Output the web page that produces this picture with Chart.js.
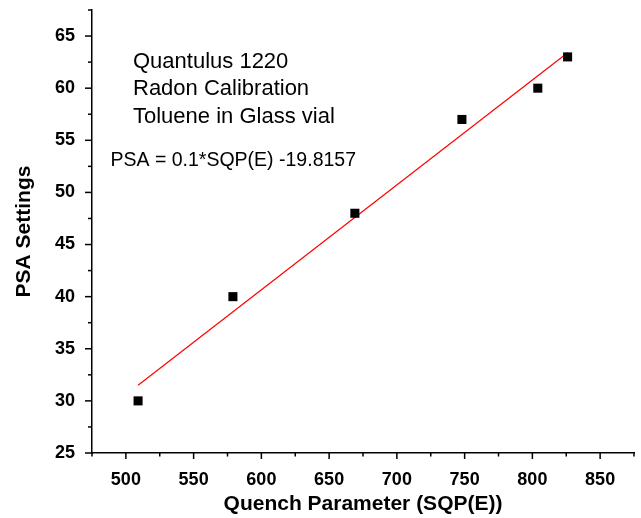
<!DOCTYPE html>
<html>
<head>
<meta charset="utf-8">
<script src="https://cdn.jsdelivr.net/npm/chart.js@4.4.1/dist/chart.umd.min.js"></script>
<style>
  html, body { margin: 0; padding: 0; background: #fff; }
  #wrap { width: 641px; height: 518px; }
</style>
</head>
<body>
<div id="wrap"><canvas id="psaChart" width="641" height="518"></canvas></div>
<script>
// valores
const sqpValues = [509, 579, 669, 748, 804, 826];
const psaValues = [30, 40, 48, 57, 60, 63];
const fitX = [509, 826];
const fitY = [31.5, 63.4];
const noteLines = ['Quantulus 1220', 'Radon Calibration', 'Toluene in Glass vial'];
const equationText = 'PSA = 0.1*SQP(E) -19.8157';

const FONT = "'Liberation Sans', Arial, sans-serif";

// marcas de escala (maiores e menores) desenhadas a mao
const tickMarks = {
    id: 'tickMarks',
    afterDraw(chart) {
        const ctx = chart.ctx;
        const x = chart.scales.x, y = chart.scales.y;
        ctx.save();
        ctx.strokeStyle = '#000';
        ctx.lineWidth = 1.5;
        x.ticks.forEach(t => {
            const px = x.getPixelForValue(t.value);
            const len = t.value % 50 === 0 ? 6 : 3.5;
            ctx.beginPath();
            ctx.moveTo(px, x.top);
            ctx.lineTo(px, x.top + len);
            ctx.stroke();
        });
        y.ticks.forEach(t => {
            const py = y.getPixelForValue(t.value);
            const len = t.value % 5 === 0 ? 7 : 4;
            ctx.beginPath();
            ctx.moveTo(y.right, py);
            ctx.lineTo(y.right - len, py);
            ctx.stroke();
        });
        ctx.restore();
    }
};

const notes = {
    id: 'notes',
    afterDraw(chart) {
        const ctx = chart.ctx;
        ctx.save();
        ctx.fillStyle = '#000';
        ctx.textBaseline = 'alphabetic';
        ctx.font = '22px ' + FONT;
        noteLines.forEach((s, i) => ctx.fillText(s, 133, 67.7 + i * 27.5));
        ctx.font = '19.5px ' + FONT;
        ctx.fillText(equationText, 110.5, 166);
        ctx.restore();
    }
};

new Chart(document.getElementById('psaChart'), {
    type: 'scatter',
    data: {
        datasets: [{
            label: 'Ajuste',
            type: 'line',
            data: fitX.map((v, i) => ({ x: v, y: fitY[i] })),
            borderColor: '#ff0000',
            borderWidth: 1.2,
            pointRadius: 0,
            fill: false,
            order: 2
        }, {
            label: 'PSA',
            data: sqpValues.map((v, i) => ({ x: v, y: psaValues[i] })),
            pointStyle: 'rect',
            pointRadius: 6.4,
            backgroundColor: '#000',
            borderColor: '#000',
            borderWidth: 0,
            order: 1
        }]
    },
    options: {
        responsive: false,
        animation: false,
        layout: { padding: { top: 10, right: 7, left: 0, bottom: 0 } },
        plugins: { legend: { display: false }, tooltip: { enabled: false } },
        scales: {
            x: {
                type: 'linear',
                min: 475, max: 875,
                afterFit: s => { s.height = 65; s.paddingLeft = 0; s.paddingRight = 0; },
                grid: { display: false, drawTicks: false },
                border: { display: true, color: '#000', width: 1.5 },
                ticks: {
                    stepSize: 25,
                    autoSkip: false,
                    maxRotation: 0,
                    padding: 16,
                    color: '#000',
                    font: { family: FONT, size: 18, weight: 'bold' },
                    callback: v => (v % 50 === 0 ? v : '')
                },
                title: {
                    display: true,
                    text: 'Quench Parameter (SQP(E))',
                    color: '#000',
                    font: { family: FONT, size: 21, weight: 'bold' },
                    padding: { top: 0, bottom: 1 }
                }
            },
            y: {
                type: 'linear',
                min: 25, max: 67.5,
                afterFit: s => { s.width = 92; s.paddingTop = 0; s.paddingBottom = 0; },
                grid: { display: false, drawTicks: false },
                border: { display: true, color: '#000', width: 1.5 },
                ticks: {
                    stepSize: 2.5,
                    autoSkip: false,
                    padding: 17,
                    color: '#000',
                    font: { family: FONT, size: 18, weight: 'bold' },
                    callback: v => (v % 5 === 0 ? v : '')
                },
                title: {
                    display: true,
                    text: 'PSA Settings',
                    color: '#000',
                    font: { family: FONT, size: 21, weight: 'bold' },
                    padding: { top: 12, bottom: 0 }
                }
            }
        }
    },
    plugins: [tickMarks, notes]
});
</script>
</body>
</html>
